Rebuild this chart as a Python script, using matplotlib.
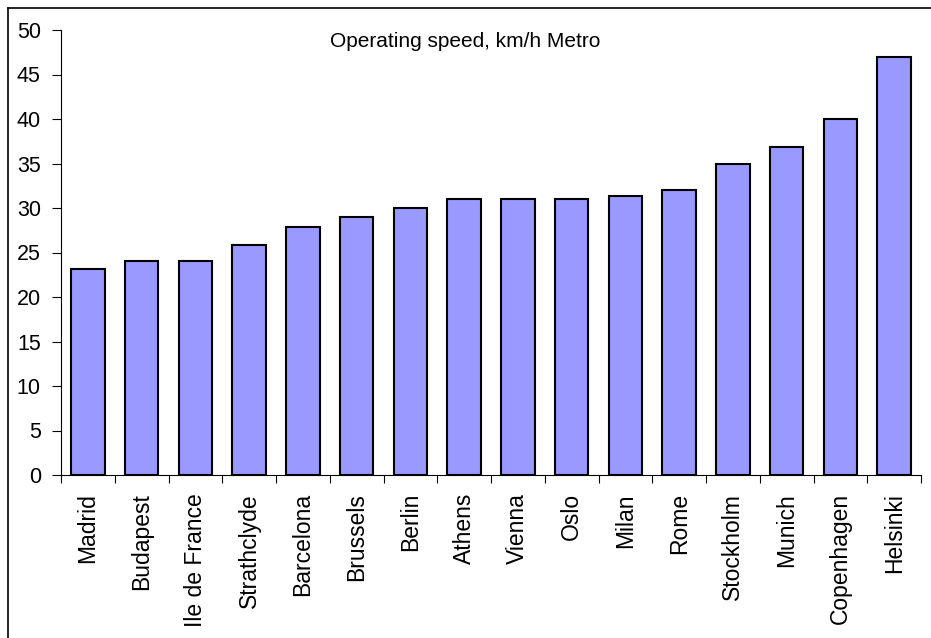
import matplotlib
matplotlib.use('Agg')
import matplotlib.pyplot as plt
from matplotlib.lines import Line2D
import numpy as np

cities = ['Madrid', 'Budapest', 'Ile de France', 'Strathclyde', 'Barcelona',
          'Brussels', 'Berlin', 'Athens', 'Vienna', 'Oslo', 'Milan', 'Rome',
          'Stockholm', 'Munich', 'Copenhagen', 'Helsinki']
speed = [23.2, 24.0, 24.0, 25.8, 27.9, 29.0, 30.0, 31.0, 31.0, 31.0, 31.3,
         32.0, 34.9, 36.9, 40.0, 47.0]
y_ticks = [0, 5, 10, 15, 20, 25, 30, 35, 40, 45, 50]

plt.rcParams['font.family'] = ['Liberation Sans', 'DejaVu Sans']

fig = plt.figure(figsize=(9.31, 6.38), dpi=100)
ax = fig.add_axes([61 / 931, 163 / 638, 860 / 931, 445 / 638])

x = np.arange(len(cities))
ax.bar(x, speed, width=0.62, color='#9999FF', edgecolor='black', linewidth=1.5, zorder=3)

ax.set_xlim(-0.5, len(cities) - 0.5)
ax.set_ylim(0, 50)
ax.set_yticks(y_ticks)
ax.tick_params(axis='y', direction='out', length=6.5, width=0.8, labelsize=15.5, pad=8)

# labels at bar centres, tick marks between categories
ax.set_xticks(x)
ax.set_xticklabels(cities, rotation=90, fontsize=16.5, va='top', ha='center')
ax.tick_params(axis='x', which='major', length=0, pad=13)
ax.set_xticks(np.arange(-0.5, len(cities)), minor=True)
ax.tick_params(axis='x', which='minor', direction='out', length=5.5, width=0.8)

for side in ['top', 'right']:
    ax.spines[side].set_visible(False)
for side in ['left', 'bottom']:
    ax.spines[side].set_linewidth(0.8)

ax.text(0.47, 0.975, 'Operating speed, km/h Metro', transform=ax.transAxes,
        ha='center', va='center', fontsize=15)

# outer chart frame (left and top edges visible)
fig.add_artist(Line2D([8 / 931, 8 / 931], [0, 1 - 8 / 638], transform=fig.transFigure,
                      color='black', linewidth=1.2))
fig.add_artist(Line2D([8 / 931, 1], [1 - 8 / 638, 1 - 8 / 638], transform=fig.transFigure,
                      color='black', linewidth=1.2))

fig.savefig('out.png', dpi=100)
